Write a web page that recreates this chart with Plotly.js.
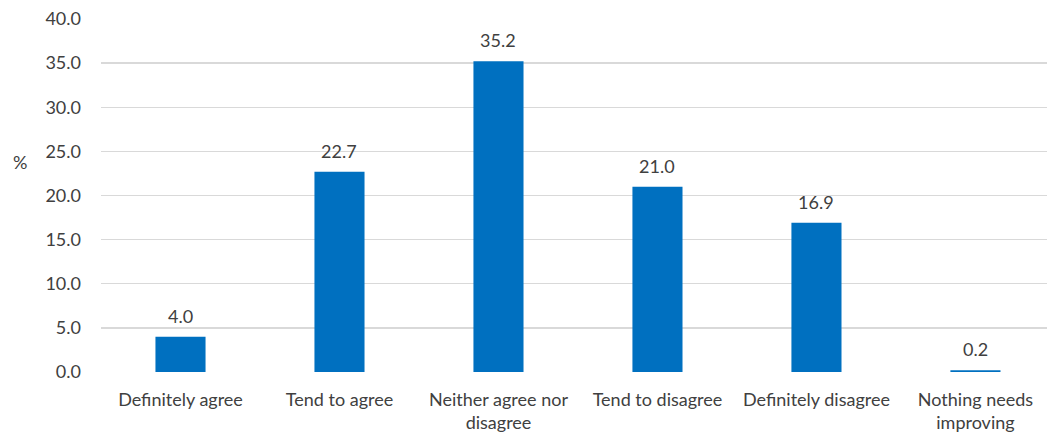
<!DOCTYPE html>
<html><head><meta charset="utf-8">
<script src="https://cdn.plot.ly/plotly-3.0.1.min.js"></script>
<style>html,body{margin:0;padding:0;background:#fff}#c{width:1047px;height:434px}</style>
</head><body><div id="c"></div>
<script>
const categories = ["Definitely agree","Tend to agree","Neither agree nor<br>disagree","Tend to disagree","Definitely disagree","Nothing needs<br>improving"];
const values = [4.0, 22.7, 35.2, 21.0, 16.9, 0.2];
const yTicks = [0,5,10,15,20,25,30,35,40];
const yTickLabels = yTicks.map(v => v.toFixed(1));
const yTitle = "%";

const font = {family: "Lato, 'Open Sans', sans-serif", size: 18, color: "#404040"};
const xs = values.map((v, i) => i);
const anns = values.map((v, i) => ({
  x: xs[i], y: v, xref: "x", yref: "y", text: v.toFixed(1), showarrow: false,
  yanchor: "bottom", yshift: 8, font: font
}));
anns.push({
  xref: "paper", yref: "paper", x: (20 - 101) / 946, y: (372 - 162) / 353,
  text: yTitle, showarrow: false, font: font, xanchor: "center", yanchor: "middle"
});
Plotly.newPlot("c", [{
  type: "bar",
  x: xs,
  y: values,
  marker: {color: "#0070C0"},
  hoverinfo: "none"
}], {
  width: 1047, height: 434,
  margin: {l: 101, r: 0, t: 19, b: 62},
  paper_bgcolor: "#fff", plot_bgcolor: "#fff",
  bargap: 0.685,
  font: font,
  showlegend: false,
  annotations: anns,
  xaxis: {range: [-0.5, 5.45], tickvals: xs, ticktext: categories,
          showgrid: false, zeroline: false, showline: false, ticks: "", tickfont: font,
          ticklabelstandoff: 15},
  yaxis: {range: [0, 40], tickvals: yTicks, ticktext: yTickLabels, showgrid: true,
          gridcolor: "#d9d9d9", gridwidth: 1.3, zeroline: false, showline: false, ticks: "",
          ticklabelstandoff: 19, tickfont: font}
}, {staticPlot: true});
</script></body></html>
